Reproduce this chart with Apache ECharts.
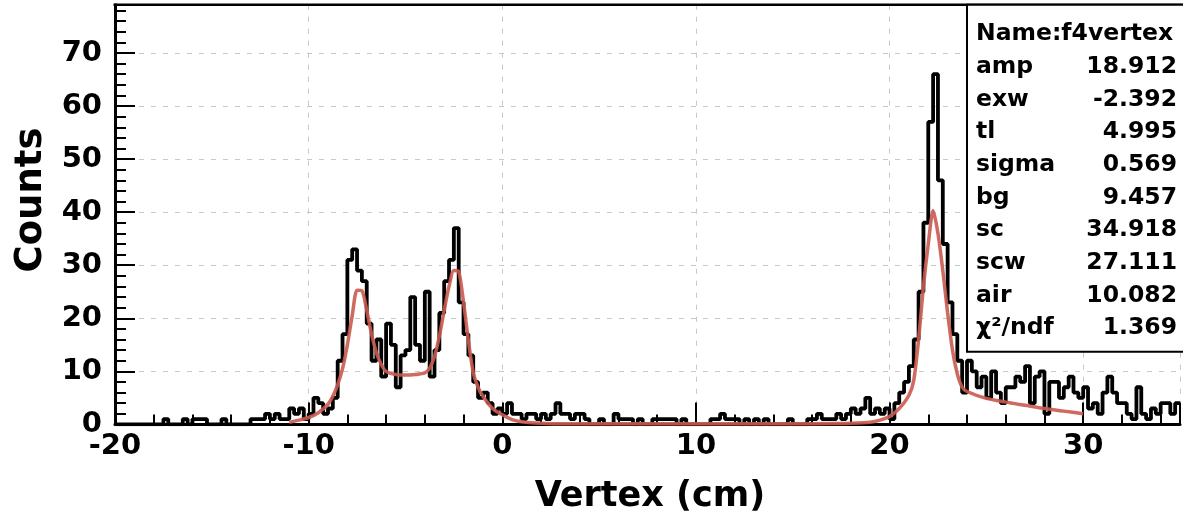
<!DOCTYPE html>
<html><head><meta charset="utf-8">
<script src="https://cdn.jsdelivr.net/npm/echarts@6/dist/echarts.min.js"></script>
<style>html,body{margin:0;padding:0;background:#fff}#c{width:1183px;height:524px}</style>
</head><body><div id="c"></div>
<script>
// ---- data ----
const binStart = -20;
const binWidth = 0.25;
const counts = [
  0,0,0,0,0,0,0,0,0,0,
  1,0,0,0,1,0,1,1,1,0,
  0,0,1,0,0,0,0,0,1,1,
  1,2,1,2,1,1,3,2,3,1,
  2,5,4,2,3,5,12,17,31,33,
  29,27,19,12,16,9,19,15,7,13,
  14,24,15,12,25,9,14,21,27,31,
  37,23,17,13,8,5,6,4,2,3,
  2,4,2,2,1,2,2,1,2,1,
  2,4,2,2,1,2,2,1,0,0,
  1,0,0,2,1,1,1,0,1,0,
  0,1,1,1,1,1,0,1,0,0,
  0,0,0,1,1,2,1,1,1,0,
  1,0,1,0,1,0,0,0,0,1,
  0,0,0,1,1,2,1,1,1,2,
  1,2,3,2,3,5,2,3,2,3,
  1,4,6,8,11,16,25,38,57,66,
  46,34,23,17,12,6,12,10,7,9,
  5,10,6,4,7,7,9,8,11,4,
  9,10,2,8,8,5,7,9,6,5,
  7,3,4,2,6,9,6,4,4,2,
  1,7,2,1,3,2,4,4,2,4
];
const fitX = [-11,-10.5,-10,-9.5,-9,-8.75,-8.5,-8.25,-8,-7.75,-7.5,-7.25,-7,-6.75,-6.5,-6.25,-6,-5.5,-5,-4.5,-4,-3.75,-3.5,-3.25,-3,-2.75,-2.5,-2.25,-2,-1.75,-1.5,-1.25,-1,-0.5,0,0.5,1,1.5,2,3,5,10,15,17,18,19,19.5,20,20.5,21,21.25,21.5,21.75,22,22.25,22.5,22.75,23,23.25,23.5,23.75,24,25,26,27,28,29,30];
const fitY = [0.4,0.8,1.3,2.2,3.8,5.3,7.5,10.5,15,20.5,25.3,25.2,21.5,17,13.5,11.3,10,9.4,9.3,9.4,9.7,10.6,12.8,16.6,21.5,26,29,28.8,23,15.8,9.8,7,5.3,3,1.8,0.9,0.5,0.3,0.2,0.1,0.1,0.1,0.1,0.15,0.2,0.4,0.8,1.5,3,5.5,8.3,16,26,34,40.3,36,29,21,14,9.5,7,6.2,4.9,4.2,3.6,3.0,2.5,2.0];
const xTicks = [-20,-10,0,10,20,30];
const yTicks = [0,10,20,30,40,50,60,70];
const statHeader = 'Name:f4vertex';
const statNames = ['amp','exw','tl','sigma','bg','sc','scw','air','χ²/ndf'];
const statValues = ['18.912','-2.392','4.995','0.569','9.457','34.918','27.111','10.082','1.369'];

// ---- build ----
const histData = counts.map((c,i)=>[binStart+i*binWidth, c]);
histData.push([binStart+counts.length*binWidth, counts[counts.length-1]]);
const fitData = fitX.map((x,i)=>[x, fitY[i]]);

const FF = 'DejaVu Sans';
const statFont = 'bold 23.5px "'+FF+'"';
const chart = echarts.init(document.getElementById('c'), null, {renderer:'canvas'});

const graphics = [
  {type:'line', z:101, shape:{x1:113.5,y1:4.7,x2:1183,y2:4.7}, style:{stroke:'#000',lineWidth:2.5}},
  {type:'rect', z:102, shape:{x:967,y:4.7,width:240,height:347}, style:{fill:'#fff',stroke:'#000',lineWidth:2}},
  {type:'text', z:103, x:976, y:34, style:{text:statHeader, font:statFont, fill:'#000', align:'left', verticalAlign:'middle'}},
  {type:'text', z:103, x:650, y:497, style:{text:'Vertex (cm)', font:'bold 35px "'+FF+'"', fill:'#000', align:'center', verticalAlign:'middle'}},
  {type:'text', z:103, x:31, y:200, rotation:Math.PI/2, style:{text:'Counts', font:'bold 37px "'+FF+'"', fill:'#000', align:'center', verticalAlign:'middle'}}
];
statNames.forEach((n,i)=>{
  const y = 34 + 32.7*(i+1);
  graphics.push({type:'text', z:103, x:976, y:y, style:{text:n, font:statFont, fill:'#000', align:'left', verticalAlign:'middle'}});
  graphics.push({type:'text', z:103, x:1177, y:y, style:{text:statValues[i], font:statFont, fill:'#000', align:'right', verticalAlign:'middle'}});
});

const gridLine = {show:true, lineStyle:{type:[5,7], color:'#c8c8c8', width:1}};
const labelStyle = {fontSize:29, fontWeight:'bold', fontFamily:FF, color:'#000'};

chart.setOption({
  animation:false,
  backgroundColor:'#fff',
  grid:{left:115, top:4.7, width:1067, height:419.7, containLabel:false},
  xAxis:[{
    type:'value', min:-20, max:35, interval:10, position:'bottom',
    axisLine:{show:true, onZero:false, lineStyle:{color:'#000', width:3}},
    axisTick:{show:true, inside:true, length:22, lineStyle:{color:'#000', width:2}},
    axisLabel:Object.assign({margin:8, formatter:v=>xTicks.includes(v)?String(v):''}, labelStyle),
    splitLine:gridLine
  },{
    type:'value', min:-20, max:35, interval:2, position:'bottom', offset:0,
    axisLine:{show:false, onZero:false},
    axisTick:{show:true, inside:true, length:10, lineStyle:{color:'#000', width:2}},
    axisLabel:{show:false}, splitLine:{show:false}
  }],
  yAxis:[{
    type:'value', min:0, max:79.1, interval:10, position:'left',
    axisLine:{show:true, onZero:false, lineStyle:{color:'#000', width:3}},
    axisTick:{show:true, inside:true, length:20, lineStyle:{color:'#000', width:2}},
    axisLabel:Object.assign({margin:13, formatter:v=>yTicks.includes(v)?String(v):''}, labelStyle),
    splitLine:gridLine
  },{
    type:'value', min:0, max:79.1, interval:2, position:'left', offset:0,
    axisLine:{show:false, onZero:false},
    axisTick:{show:true, inside:true, length:11, lineStyle:{color:'#000', width:2}},
    axisLabel:{show:false}, splitLine:{show:false}
  }],
  series:[
    {type:'line', step:'end', data:histData, showSymbol:false, z:3, xAxisIndex:0, yAxisIndex:0,
     lineStyle:{color:'#000', width:3.8}},
    {type:'line', data:fitData, showSymbol:false, smooth:0.25, z:4, xAxisIndex:0, yAxisIndex:0,
     lineStyle:{color:'#c95a4e', width:3.5, opacity:0.9}}
  ],
  graphic:graphics
});
</script></body></html>
